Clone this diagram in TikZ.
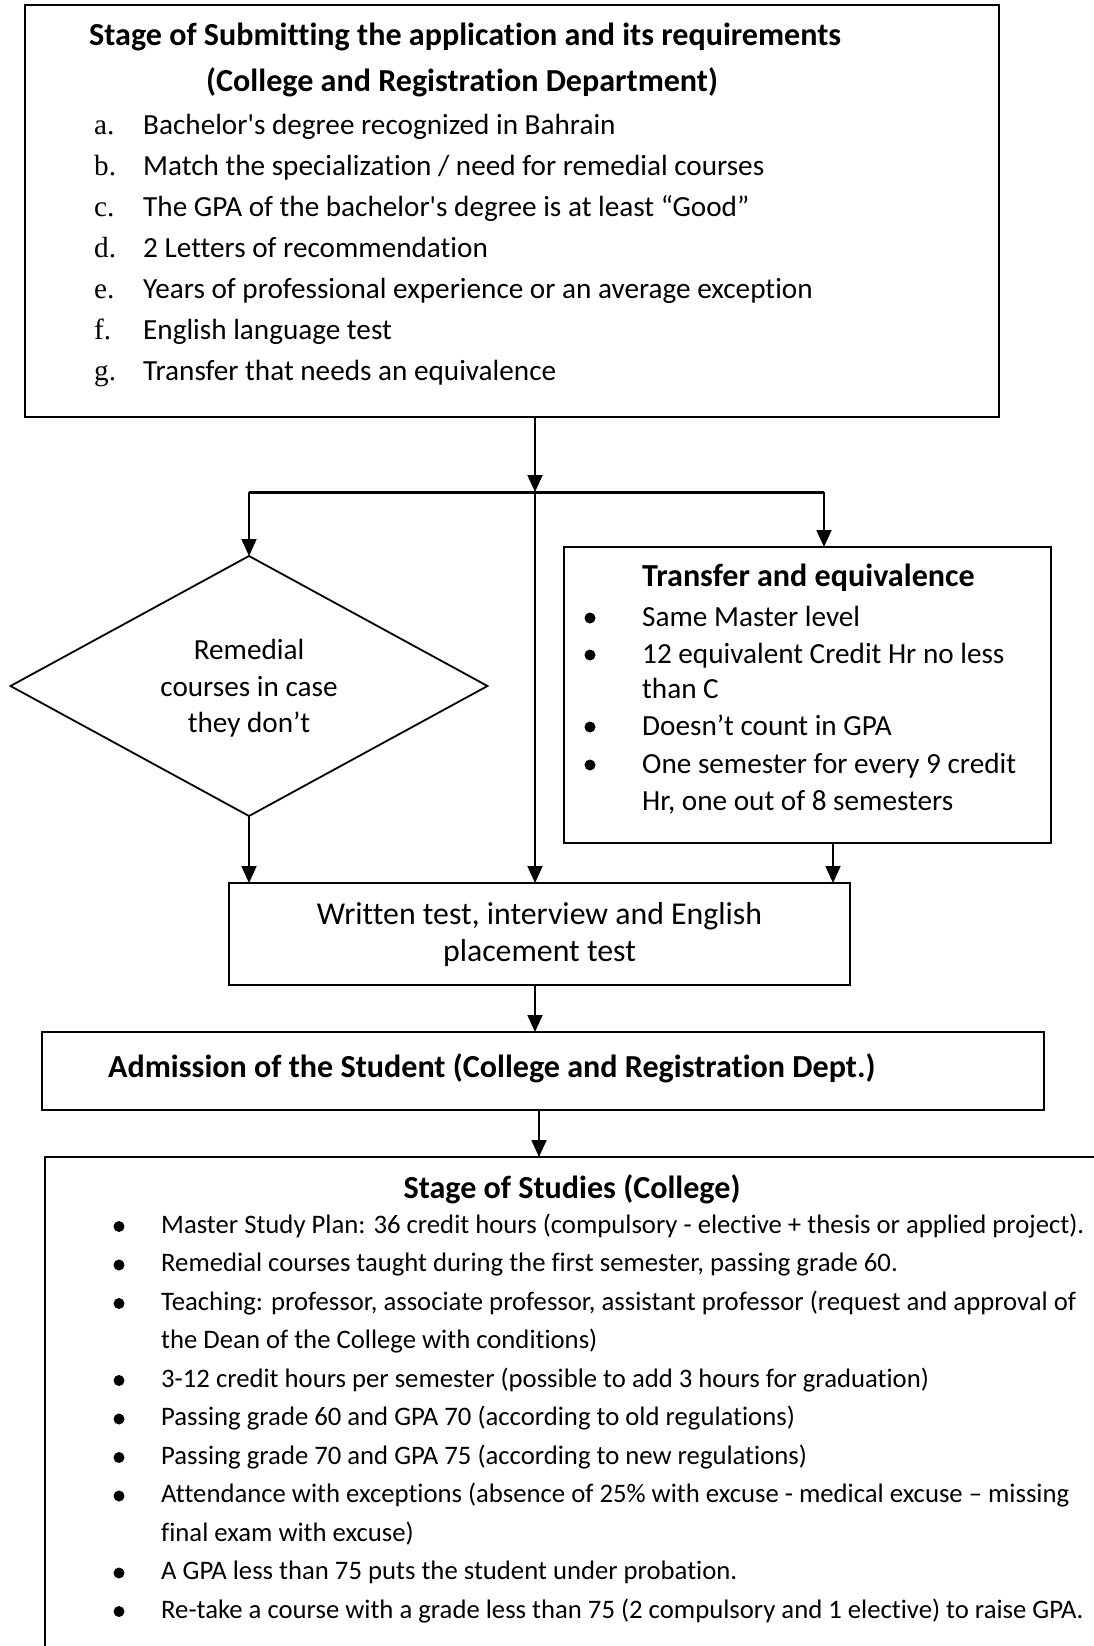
\documentclass[tikz,border=0pt]{standalone}
\usepackage{fontspec}
\setmainfont{Carlito}[Ligatures={TeX,NoCommon}]
\newfontfamily\lblfont{Liberation Serif}
\usetikzlibrary{shapes.geometric,arrows.meta}
\begin{document}
\begin{tikzpicture}[x=1pt,y=-1pt,
  box/.style={draw, line width=1.8pt, inner sep=0pt, outer sep=0pt},
  conn/.style={line width=1.8pt, -{Triangle[length=17pt,width=15pt]}},
  barline/.style={line width=3pt},
  txt/.style={inner sep=0pt, anchor=base west, font=\fontsize{29.2}{35}\selectfont},
  txtc/.style={inner sep=0pt, anchor=base, font=\fontsize{29.2}{35}\selectfont},
  txtb/.style={inner sep=0pt, anchor=base west, font=\fontsize{32.1}{38}\selectfont\bfseries},
  lbl/.style={inner sep=0pt, anchor=base west, font=\fontsize{29.2}{35}\selectfont\lblfont},
  small/.style={inner sep=0pt, anchor=base west, font=\fontsize{26.7}{32}\selectfont},
  big/.style={inner sep=0pt, anchor=base, font=\fontsize{31.8}{38}\selectfont},
  dot/.style={fill=black}
]
\useasboundingbox (0,0) rectangle (1094,1646);
\clip (0,0) rectangle (1094,1646);

% boxes
\node[box, minimum width=974pt, minimum height=412pt] (top) at (512,211) {};
\node[box, shape=diamond, minimum width=477pt, minimum height=260pt] (dia) at (249,686) {};
\node[box, minimum width=487pt, minimum height=296pt] (tr) at (807.5,695) {};
\node[box, minimum width=621pt, minimum height=102pt] (test) at (539.5,934) {};
\node[box, minimum width=1002pt, minimum height=78pt] (adm) at (543,1071) {};
\node[box, minimum width=1085pt, minimum height=523pt] (stud) at (587.5,1418.5) {};

% connectors
\coordinate (j) at (535,492);
\coordinate (bl) at (249,492);
\coordinate (br) at (824,492);
\draw[conn] (top.south -| j) -- (j);
\draw[barline] (bl) -- (br);
\draw[conn] (bl) -- (dia.north);
\draw[conn] (br) -- (br |- tr.north);
\draw[conn] (j) -- (j |- test.north);
\draw[conn] (dia.south) -- (dia.south |- test.north);
\draw[conn] ([xshift=25.5pt]tr.south) -- ([xshift=25.5pt]tr.south |- test.north);
\draw[conn] (test.south -| j) -- (j |- adm.north);
\draw[conn] ([xshift=-4pt]adm.south) -- ([xshift=-4pt]adm.south |- stud.north);

% top box text
\node[txtb] (t0) at (89,46) {Stage of Submitting the application and its requirements};
\node[txtb] (t1) at (206,91) {(College and Registration Department)};
\node[lbl] (la) at (94,134) {a.};
\node[txt] (ia) at (143,134) {Bachelor\textquotesingle s degree recognized in Bahrain};
\node[lbl] (lb) at (94,175) {b.};
\node[txt] (ib) at (143,175) {Match the specialization / need for remedial courses};
\node[lbl] (lc) at (94,216) {c.};
\node[txt] (ic) at (143,216) {The GPA of the bachelor\textquotesingle s degree is at least “Good”};
\node[lbl] (ld) at (94,257) {d.};
\node[txt] (id) at (143,257) {2 Letters of recommendation};
\node[lbl] (le) at (94,298) {e.};
\node[txt] (ie) at (143,298) {Years of professional experience or an average exception};
\node[lbl] (lf) at (94,339) {f.};
\node[txt] (if) at (143,339) {English language test};
\node[lbl] (lg) at (94,380) {g.};
\node[txt] (ig) at (143,380) {Transfer that needs an equivalence};

% diamond text
\node[txtc] (d1) at (249,659) {Remedial};
\node[txtc] (d2) at (249,696) {courses in case};
\node[txtc] (d3) at (249,732) {they don’t};

% transfer box text
\node[txtb] (r0) at (642,586) {Transfer and equivalence};
\fill[dot] (590,618) circle (5.5);
\node[txt] (r1) at (642,626) {Same Master level};
\fill[dot] (590,655) circle (5.5);
\node[txt] (r2) at (642,663) {12 equivalent Credit Hr no less};
\node[txt] (r3) at (642,698) {than C};
\fill[dot] (590,727) circle (5.5);
\node[txt] (r4) at (642,735) {Doesn’t count in GPA};
\fill[dot] (590,765) circle (5.5);
\node[txt] (r5) at (642,773) {One semester for every 9 credit};
\node[txt] (r6) at (642,810) {Hr, one out of 8 semesters};

% test box text
\node[big] (w1) at (539.5,924) {Written test, interview and English};
\node[big] (w2) at (539.5,961) {placement test};

% admission text
\node[txtb] (a1) at (108,1077) {Admission of the Student (College and Registration Dept.)};

% studies text
\node[txtb, anchor=base] (s0) at (572,1198) {Stage of Studies (College)};
\foreach \i/\txt/\b in {
 0/{Master Study Plan: 36 credit hours (compulsory - elective + thesis or applied project).}/1,
 1/{Remedial courses taught during the first semester, passing grade 60.}/1,
 2/{Teaching: professor, associate professor, assistant professor (request and approval of}/1,
 3/{the Dean of the College with conditions)}/0,
 4/{3-12 credit hours per semester (possible to add 3 hours for graduation)}/1,
 5/{Passing grade 60 and GPA 70 (according to old regulations)}/1,
 6/{Passing grade 70 and GPA 75 (according to new regulations)}/1,
 7/{Attendance with exceptions (absence of 25\% with excuse - medical excuse – missing}/1,
 8/{final exam with excuse)}/0,
 9/{A GPA less than 75 puts the student under probation.}/1,
 10/{Re-take a course with a grade less than 75 (2 compulsory and 1 elective) to raise GPA.}/1}{
  \node[small] (s\i) at (161,1233+38.5*\i) {\txt};
  \ifnum\b=1 \fill[dot] (119,1226.5+38.5*\i) circle (5.5); \fi
}
\end{tikzpicture}
\end{document}
